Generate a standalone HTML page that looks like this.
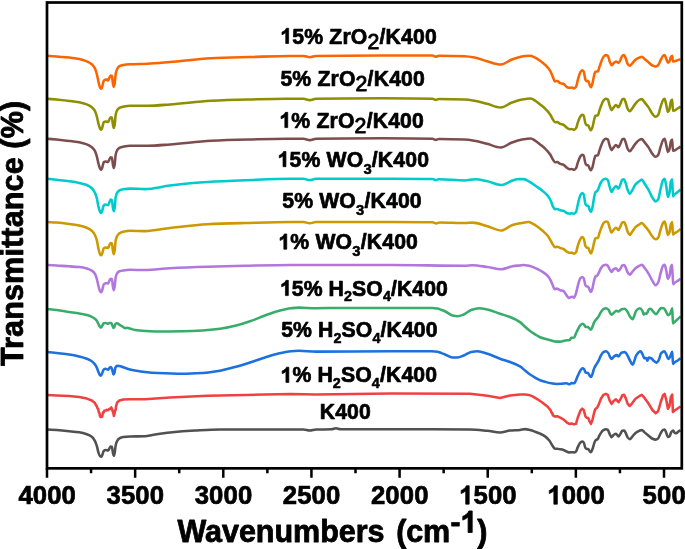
<!DOCTYPE html>
<html><head><meta charset="utf-8"><title>FTIR spectra</title>
<style>html,body{margin:0;padding:0;background:#fff}svg{display:block}</style>
</head><body>
<svg width="685" height="549" viewBox="0 0 685 549">
<defs><filter id="soft" x="0" y="0" width="685" height="549" filterUnits="userSpaceOnUse"><feGaussianBlur stdDeviation="0.35"/></filter></defs>
<rect width="685" height="549" fill="#fff"/>
<g filter="url(#soft)">
<rect width="685" height="549" fill="#fff"/>
<g fill="none" stroke-width="2.55" stroke-linejoin="round" stroke-linecap="butt">
<path d="M47.10 429.50C50.27 429.70 53.43 429.87 56.60 430.10C60.77 430.40 64.93 430.79 69.10 431.20C72.47 431.53 75.83 431.78 79.20 432.30C81.73 432.69 84.27 433.34 86.80 434.20C88.47 434.77 90.13 435.45 91.80 436.70C92.83 437.48 93.87 438.92 94.90 440.80C95.53 441.95 96.17 443.88 96.80 445.90C97.43 447.92 98.07 451.78 98.70 453.40C99.20 454.68 99.70 455.92 100.20 456.30C100.53 456.55 100.87 456.80 101.20 456.80C101.53 456.80 101.87 455.95 102.20 455.30C102.70 454.33 103.20 451.32 103.70 450.90C104.33 450.37 104.97 450.00 105.60 450.00C106.43 450.00 107.27 450.50 108.10 450.50C108.43 450.50 108.77 449.52 109.10 449.00C109.60 448.21 110.10 446.50 110.60 446.50C111.03 446.50 111.47 446.56 111.90 446.70C112.23 446.80 112.57 451.34 112.90 452.80C113.20 454.11 113.50 455.90 113.80 455.90C114.10 455.90 114.40 454.21 114.70 452.80C115.03 451.23 115.37 446.65 115.70 445.20C116.20 443.02 116.70 441.64 117.20 440.80C117.93 439.56 118.67 438.70 119.40 438.30C120.67 437.60 121.93 437.16 123.20 437.00C125.47 436.71 127.73 436.57 130.00 436.50C135.00 436.35 140.00 436.42 145.00 436.25C147.50 436.17 150.00 435.39 152.50 435.00C158.33 434.09 164.17 433.11 170.00 432.50C178.33 431.63 186.67 430.97 195.00 430.50C203.33 430.03 211.67 429.40 220.00 429.40C243.67 429.40 267.33 429.50 291.00 429.50C295.17 429.50 299.33 429.50 303.50 429.50C305.58 429.50 307.67 430.50 309.75 430.50C311.83 430.50 313.92 429.56 316.00 429.50C321.17 429.36 326.33 429.45 331.50 429.30C333.00 429.26 334.50 428.20 336.00 428.20C337.50 428.20 339.00 429.30 340.50 429.30C357.33 429.30 374.17 429.30 391.00 429.30C417.33 429.30 443.67 429.32 470.00 429.40C475.83 429.42 481.67 430.22 487.50 430.80C491.67 431.22 495.83 432.40 500.00 432.40C503.33 432.40 506.67 430.94 510.00 430.60C513.33 430.26 516.67 430.24 520.00 429.90C521.67 429.73 523.33 429.10 525.00 429.10C526.70 429.10 528.40 429.69 530.10 430.10C531.77 430.51 533.43 431.11 535.10 431.70C536.77 432.29 538.43 432.93 540.10 433.70C541.77 434.47 543.43 435.22 545.10 436.40C546.57 437.44 548.03 438.98 549.50 440.80C550.57 442.13 551.63 444.41 552.70 445.90C553.47 446.97 554.23 448.80 555.00 448.80C555.70 448.80 556.40 448.80 557.10 448.80C558.13 448.80 559.17 449.11 560.20 449.30C561.27 449.50 562.33 449.68 563.40 450.00C564.67 450.38 565.93 451.41 567.20 451.80C568.03 452.06 568.87 452.40 569.70 452.40C570.33 452.40 570.97 452.20 571.60 452.20C572.43 452.20 573.27 452.40 574.10 452.40C574.73 452.40 575.37 452.01 576.00 451.50C576.60 451.02 577.20 448.34 577.80 447.10C578.67 445.30 579.53 443.21 580.40 442.50C581.00 442.01 581.60 441.50 582.20 441.50C582.70 441.50 583.20 441.96 583.70 442.50C584.27 443.11 584.83 446.97 585.40 447.80C585.80 448.39 586.20 449.00 586.60 449.00C587.13 449.00 587.67 449.00 588.20 449.00C588.73 449.00 589.27 450.78 589.80 451.30C590.20 451.69 590.60 452.20 591.00 452.20C591.43 452.20 591.87 450.66 592.30 449.60C592.93 448.05 593.57 445.14 594.20 443.40C594.60 442.30 595.00 440.94 595.40 440.50C596.17 439.66 596.93 439.80 597.70 439.00C598.20 438.48 598.70 436.75 599.20 435.80C599.77 434.72 600.33 433.66 600.90 432.90C601.73 431.78 602.57 430.69 603.40 430.20C604.23 429.71 605.07 429.20 605.90 429.20C606.53 429.20 607.17 429.50 607.80 429.90C608.43 430.30 609.07 433.05 609.70 434.20C610.33 435.35 610.97 437.10 611.60 437.10C612.23 437.10 612.87 435.46 613.50 435.00C614.33 434.40 615.17 433.70 616.00 433.70C616.83 433.70 617.67 436.50 618.50 436.50C619.13 436.50 619.77 434.84 620.40 433.90C621.03 432.96 621.67 431.05 622.30 430.80C622.90 430.57 623.50 430.40 624.10 430.40C624.63 430.40 625.17 431.91 625.70 432.90C626.37 434.13 627.03 436.70 627.70 437.50C628.40 438.34 629.10 439.20 629.80 439.20C630.63 439.20 631.47 437.60 632.30 436.70C633.37 435.55 634.43 433.73 635.50 432.90C636.73 431.94 637.97 431.32 639.20 430.80C640.07 430.43 640.93 429.90 641.80 429.90C642.63 429.90 643.47 431.38 644.30 432.10C645.77 433.36 647.23 434.61 648.70 435.80C649.93 436.80 651.17 438.20 652.40 438.70C653.47 439.14 654.53 439.60 655.60 439.60C656.43 439.60 657.27 439.05 658.10 438.40C658.93 437.75 659.77 434.66 660.60 433.30C661.43 431.94 662.27 430.25 663.10 429.90C663.60 429.69 664.10 429.50 664.60 429.50C665.17 429.50 665.73 431.61 666.30 432.90C666.83 434.11 667.37 437.10 667.90 437.10C668.40 437.10 668.90 436.83 669.40 436.50C670.03 436.08 670.67 432.92 671.30 432.10C671.93 431.28 672.57 430.40 673.20 430.40C673.60 430.40 674.00 432.09 674.40 432.40C675.03 432.89 675.67 433.30 676.30 433.30C676.93 433.30 677.57 432.17 678.20 431.70C678.97 431.13 679.73 430.70 680.50 430.20" stroke="#515151"/>
<path d="M47.10 394.90L56.60 395.50L69.10 396.10L79.20 397.10L86.80 398.60L91.80 400.50L94.90 403.00L96.20 405.60L96.80 406.20L97.60 408.60L98.20 409.00L98.90 412.60L99.40 413.00L100.00 416.30L100.90 417.20L101.50 416.20L102.20 416.60L103.00 412.20L103.60 412.60L104.20 410.80L105.60 410.60L106.60 409.90L108.10 410.20L109.60 408.70L110.40 408.90L111.30 407.40L112.20 409.40L112.60 411.20L113.30 412.80L113.90 416.00L114.60 413.40L115.00 410.60L115.70 409.80L116.10 406.20L117.20 402.40L119.40 400.50L123.20 399.60L130.00 399.30L145.00 399.25L170.00 397.50L207.50 395.75L245.00 395.00L291.00 393.90L316.00 394.40L391.00 393.40L470.00 393.75L487.50 395.75L500.00 398.00L510.00 395.50L520.00 394.60L525.00 394.50L528.80 394.90L532.60 396.40L537.60 399.30L542.60 402.70L547.70 406.80L550.80 410.60L551.60 412.90L552.30 413.10L552.90 415.40L555.00 416.50L557.10 416.20L560.20 417.70L563.40 419.40L567.20 422.80L569.70 424.00L571.60 423.50L574.10 424.40L576.00 423.80L577.80 417.50L580.40 410.60L582.20 408.70L583.70 410.00L585.40 416.20L586.60 417.70L588.20 418.10L589.80 421.90L591.00 423.80L592.30 420.60L594.20 412.50L595.40 408.90L597.30 407.40L598.60 404.90L600.90 398.70L603.40 394.90L605.90 393.90L607.80 394.90L609.70 400.60L611.60 403.80L613.50 401.00L616.00 399.40L618.50 402.20L620.40 399.40L622.30 395.20L624.10 394.70L625.70 398.10L627.70 403.80L629.80 406.00L632.30 403.10L635.50 398.70L639.20 396.20L641.80 394.90L644.30 397.70L648.70 403.80L652.40 410.00L655.60 413.20L658.10 411.30L660.60 402.50L663.10 395.20L664.60 393.90L666.30 400.00L667.90 408.80L669.40 406.30L670.90 396.80L672.20 394.70L672.90 411.90L674.40 410.70L677.60 408.50L680.50 406.50" stroke="#F14040"/>
<path d="M47.10 351.90C50.27 352.30 53.43 352.71 56.60 353.10C60.77 353.61 64.93 353.97 69.10 354.60C72.47 355.11 75.83 355.80 79.20 356.60C81.73 357.20 84.27 357.85 86.80 358.80C88.47 359.42 90.13 360.16 91.80 361.30C92.83 362.01 93.87 363.08 94.90 364.40C95.53 365.21 96.17 366.30 96.80 367.60C97.43 368.90 98.07 371.20 98.70 372.60C99.20 373.71 99.70 375.21 100.20 375.50C100.47 375.66 100.73 375.80 101.00 375.80C101.40 375.80 101.80 374.12 102.20 373.20C102.70 372.05 103.20 369.83 103.70 369.50C104.33 369.08 104.97 368.80 105.60 368.80C106.43 368.80 107.27 369.70 108.10 369.70C108.53 369.70 108.97 368.39 109.40 368.00C109.93 367.51 110.47 366.90 111.00 366.90C111.43 366.90 111.87 368.77 112.30 370.10C112.67 371.22 113.03 374.50 113.40 374.50C113.73 374.50 114.07 373.78 114.40 373.00C114.73 372.22 115.07 368.31 115.40 367.60C115.90 366.53 116.40 365.70 116.90 365.70C117.73 365.70 118.57 365.80 119.40 365.90C120.67 366.06 121.93 366.77 123.20 367.20C125.47 367.97 127.73 368.94 130.00 369.50C131.67 369.91 133.33 370.21 135.00 370.50C138.33 371.08 141.67 371.65 145.00 372.00C149.17 372.44 153.33 372.81 157.50 373.00C165.83 373.38 174.17 373.75 182.50 373.75C189.17 373.75 195.83 373.39 202.50 373.00C208.33 372.66 214.17 371.75 220.00 370.75C225.00 369.89 230.00 368.36 235.00 367.00C240.00 365.64 245.00 364.08 250.00 362.50C255.00 360.92 260.00 359.08 265.00 357.50C269.17 356.19 273.33 354.71 277.50 353.75C282.00 352.72 286.50 351.64 291.00 351.25C293.50 351.03 296.00 350.80 298.50 350.80C304.33 350.80 310.17 351.60 316.00 351.60C341.00 351.60 366.00 351.25 391.00 351.25C404.67 351.25 418.33 351.25 432.00 351.25C433.83 351.25 435.67 351.45 437.50 351.70C438.67 351.86 439.83 352.47 441.00 352.90C442.33 353.39 443.67 353.97 445.00 354.50C447.50 355.50 450.00 357.50 452.50 357.50C454.17 357.50 455.83 357.50 457.50 357.50C459.58 357.50 461.67 356.29 463.75 355.50C466.25 354.56 468.75 352.47 471.25 352.00C473.33 351.61 475.42 351.25 477.50 351.25C480.83 351.25 484.17 352.73 487.50 353.75C491.67 355.02 495.83 357.26 500.00 358.75C503.33 359.94 506.67 360.77 510.00 362.00C513.33 363.23 516.67 364.33 520.00 366.30C521.67 367.28 523.33 369.15 525.00 370.50C526.70 371.88 528.40 373.32 530.10 374.50C531.77 375.65 533.43 376.66 535.10 377.60C536.77 378.54 538.43 379.54 540.10 380.20C541.77 380.86 543.43 381.34 545.10 381.80C547.20 382.38 549.30 382.97 551.40 383.30C553.10 383.56 554.80 383.90 556.50 383.90C558.17 383.90 559.83 383.79 561.50 383.70C563.17 383.61 564.83 383.30 566.50 383.30C567.57 383.30 568.63 384.30 569.70 384.30C570.33 384.30 570.97 383.00 571.60 383.00C572.50 383.00 573.40 383.30 574.30 383.30C574.87 383.30 575.43 381.38 576.00 380.20C576.60 378.95 577.20 377.14 577.80 375.80C578.67 373.86 579.53 371.72 580.40 370.50C581.10 369.51 581.80 368.20 582.50 368.20C583.03 368.20 583.57 368.67 584.10 369.20C584.60 369.69 585.10 372.43 585.60 372.60C586.37 372.86 587.13 372.76 587.90 373.00C588.53 373.20 589.17 375.06 589.80 375.80C590.20 376.27 590.60 377.00 591.00 377.00C591.43 377.00 591.87 375.54 592.30 374.50C592.93 372.98 593.57 369.68 594.20 368.20C595.03 366.26 595.87 365.21 596.70 363.80C597.33 362.73 597.97 361.89 598.60 360.70C599.30 359.38 600.00 357.22 600.70 356.00C601.60 354.43 602.50 352.71 603.40 352.20C604.23 351.73 605.07 351.30 605.90 351.30C606.73 351.30 607.57 352.22 608.40 353.20C609.03 353.94 609.67 356.74 610.30 357.60C610.73 358.19 611.17 358.90 611.60 358.90C612.43 358.90 613.27 356.97 614.10 356.40C614.93 355.83 615.77 355.10 616.60 355.10C617.23 355.10 617.87 356.40 618.50 356.40C619.53 356.40 620.57 352.99 621.60 352.60C622.67 352.20 623.73 351.90 624.80 351.90C625.63 351.90 626.47 353.80 627.30 355.10C628.33 356.71 629.37 359.65 630.40 361.40C631.17 362.70 631.93 364.80 632.70 364.80C633.20 364.80 633.70 362.68 634.20 361.40C634.83 359.77 635.47 356.72 636.10 355.70C637.57 353.34 639.03 351.30 640.50 351.30C641.13 351.30 641.77 352.74 642.40 353.80C643.03 354.86 643.67 358.20 644.30 358.20C644.93 358.20 645.57 358.00 646.20 358.00C646.60 358.00 647.00 360.80 647.40 360.80C647.83 360.80 648.27 357.60 648.70 357.60C649.53 357.60 650.37 357.88 651.20 358.20C652.03 358.52 652.87 360.15 653.70 360.80C654.67 361.56 655.63 362.60 656.60 362.60C657.30 362.60 658.00 361.25 658.70 360.10C659.53 358.73 660.37 354.04 661.20 353.20C662.27 352.13 663.33 351.30 664.40 351.30C665.03 351.30 665.67 353.26 666.30 354.50C666.93 355.74 667.57 358.90 668.20 358.90C668.80 358.90 669.40 357.90 670.00 357.00C670.57 356.15 671.13 353.63 671.70 352.60C671.90 352.24 672.10 351.70 672.30 351.70C672.50 351.70 672.70 363.90 672.90 363.90C673.40 363.90 673.90 362.98 674.40 362.60C675.47 361.79 676.53 361.27 677.60 360.50C678.57 359.80 679.53 358.97 680.50 358.20" stroke="#1A6FDF"/>
<path d="M47.10 308.90C50.27 309.30 53.43 309.66 56.60 310.10C60.77 310.67 64.93 311.37 69.10 312.00C72.47 312.51 75.83 312.91 79.20 313.50C81.73 313.94 84.27 314.43 86.80 315.10C88.47 315.54 90.13 316.05 91.80 316.80C92.83 317.26 93.87 317.87 94.90 318.70C95.53 319.21 96.17 319.90 96.80 320.80C97.43 321.70 98.07 323.45 98.70 324.60C99.20 325.51 99.70 326.79 100.20 327.10C100.53 327.31 100.87 327.50 101.20 327.50C101.53 327.50 101.87 326.36 102.20 325.80C102.70 324.96 103.20 323.49 103.70 323.30C104.33 323.06 104.97 322.90 105.60 322.90C106.43 322.90 107.27 323.70 108.10 323.70C108.53 323.70 108.97 322.90 109.40 322.90C110.03 322.90 110.67 322.90 111.30 322.90C111.70 322.90 112.10 324.88 112.50 325.80C112.83 326.57 113.17 328.00 113.50 328.00C113.80 328.00 114.10 327.55 114.40 327.10C114.73 326.60 115.07 324.15 115.40 323.90C115.90 323.52 116.40 323.30 116.90 323.30C117.73 323.30 118.57 324.12 119.40 324.60C120.47 325.22 121.53 326.06 122.60 326.70C123.43 327.20 124.27 328.10 125.10 328.10C125.73 328.10 126.37 327.80 127.00 327.80C128.00 327.80 129.00 328.33 130.00 328.60C131.67 329.05 133.33 329.74 135.00 330.00C138.33 330.52 141.67 330.81 145.00 331.00C149.17 331.24 153.33 331.50 157.50 331.50C165.83 331.50 174.17 331.38 182.50 331.25C189.17 331.14 195.83 330.87 202.50 330.50C208.33 330.18 214.17 329.53 220.00 328.75C225.00 328.08 230.00 326.95 235.00 325.75C240.00 324.55 245.00 322.93 250.00 321.25C255.00 319.57 260.00 317.30 265.00 315.50C269.17 314.00 273.33 312.37 277.50 311.25C282.00 310.04 286.50 308.79 291.00 308.25C293.50 307.95 296.00 307.60 298.50 307.60C304.33 307.60 310.17 308.20 316.00 308.20C324.33 308.20 332.67 308.00 341.00 308.00C357.67 308.00 374.33 308.00 391.00 308.00C404.67 308.00 418.33 308.01 432.00 308.05C433.83 308.06 435.67 308.31 437.50 308.60C438.67 308.78 439.83 309.30 441.00 309.70C442.33 310.16 443.67 310.65 445.00 311.25C447.50 312.38 450.00 314.93 452.50 315.50C454.17 315.88 455.83 316.25 457.50 316.25C459.58 316.25 461.67 315.29 463.75 314.50C466.25 313.56 468.75 310.84 471.25 310.00C473.75 309.16 476.25 308.25 478.75 308.25C481.67 308.25 484.58 308.93 487.50 309.50C491.67 310.32 495.83 312.37 500.00 313.75C503.33 314.86 506.67 315.68 510.00 317.00C513.33 318.32 516.67 319.84 520.00 322.10C521.67 323.23 523.33 325.25 525.00 326.70C526.70 328.18 528.40 329.63 530.10 330.90C531.77 332.14 533.43 333.26 535.10 334.30C536.77 335.34 538.43 336.51 540.10 337.20C541.77 337.89 543.43 338.31 545.10 338.80C547.20 339.42 549.30 340.00 551.40 340.50C553.10 340.91 554.80 341.60 556.50 341.60C557.73 341.60 558.97 341.60 560.20 341.60C561.90 341.60 563.60 340.78 565.30 340.50C566.77 340.26 568.23 340.31 569.70 339.90C570.23 339.75 570.77 337.91 571.30 337.80C572.23 337.60 573.17 337.70 574.10 337.50C574.73 337.36 575.37 334.75 576.00 333.40C576.60 332.12 577.20 330.73 577.80 329.60C578.67 327.96 579.53 326.06 580.40 325.20C581.10 324.51 581.80 323.70 582.50 323.70C583.03 323.70 583.57 324.15 584.10 324.60C584.53 324.97 584.97 326.56 585.40 326.70C586.23 326.97 587.07 326.87 587.90 327.10C588.53 327.28 589.17 328.20 589.80 328.70C590.20 329.02 590.60 329.60 591.00 329.60C591.43 329.60 591.87 328.05 592.30 327.10C592.93 325.71 593.57 323.21 594.20 322.10C595.03 320.64 595.87 319.98 596.70 318.90C597.33 318.08 597.97 317.38 598.60 316.40C599.30 315.31 600.00 313.43 600.70 312.40C601.60 311.07 602.50 309.69 603.40 309.20C604.23 308.74 605.07 308.30 605.90 308.30C606.73 308.30 607.57 308.89 608.40 309.60C609.03 310.14 609.67 312.62 610.30 313.40C610.73 313.94 611.17 314.60 611.60 314.60C612.43 314.60 613.27 313.13 614.10 312.50C614.93 311.87 615.77 310.80 616.60 310.80C617.23 310.80 617.87 311.50 618.50 311.50C619.53 311.50 620.57 309.47 621.60 309.20C622.67 308.92 623.73 308.70 624.80 308.70C625.63 308.70 626.47 310.36 627.30 311.50C628.33 312.92 629.37 315.83 630.40 317.10C631.17 318.04 631.93 319.30 632.70 319.30C633.20 319.30 633.70 317.12 634.20 315.90C634.83 314.35 635.47 311.52 636.10 310.80C637.37 309.36 638.63 308.30 639.90 308.30C640.73 308.30 641.57 309.45 642.40 310.80C642.80 311.45 643.20 314.60 643.60 314.60C644.03 314.60 644.47 313.40 644.90 313.40C645.53 313.40 646.17 313.70 646.80 313.70C647.43 313.70 648.07 310.09 648.70 309.60C649.33 309.11 649.97 308.70 650.60 308.70C651.43 308.70 652.27 310.68 653.10 311.50C654.13 312.52 655.17 314.20 656.20 314.20C657.03 314.20 657.87 311.84 658.70 310.80C659.53 309.76 660.37 307.90 661.20 307.90C662.07 307.90 662.93 308.06 663.80 308.30C664.63 308.53 665.47 310.79 666.30 312.10C666.93 313.10 667.57 315.20 668.20 315.20C668.80 315.20 669.40 314.64 670.00 314.00C670.57 313.40 671.13 310.92 671.70 309.60C671.90 309.13 672.10 308.30 672.30 308.30C672.50 308.30 672.70 323.40 672.90 323.40C673.40 323.40 673.90 322.62 674.40 322.20C675.47 321.30 676.53 320.30 677.60 319.30C678.57 318.40 679.53 317.43 680.50 316.50" stroke="#37AD6B"/>
<path d="M47.10 265.00C50.27 265.20 53.43 265.41 56.60 265.60C60.77 265.85 64.93 266.02 69.10 266.30C72.47 266.52 75.83 266.72 79.20 267.10C81.73 267.39 84.27 267.82 86.80 268.50C88.47 268.95 90.13 269.65 91.80 270.70C92.83 271.35 93.87 272.25 94.90 273.80C95.53 274.75 96.17 276.73 96.80 278.80C97.43 280.87 98.07 284.80 98.70 287.00C99.20 288.73 99.70 290.73 100.20 291.40C100.53 291.84 100.87 292.30 101.20 292.30C101.53 292.30 101.87 291.08 102.20 290.20C102.70 288.87 103.20 285.10 103.70 284.50C104.33 283.74 104.97 283.20 105.60 283.20C106.43 283.20 107.27 283.50 108.10 283.50C108.43 283.50 108.77 282.04 109.10 281.40C109.60 280.44 110.10 278.80 110.60 278.80C111.03 278.80 111.47 278.93 111.90 279.20C112.23 279.40 112.57 284.63 112.90 286.40C113.20 287.99 113.50 290.20 113.80 290.20C114.10 290.20 114.40 288.14 114.70 286.40C115.03 284.47 115.37 278.38 115.70 277.00C116.20 274.92 116.70 273.86 117.20 273.20C117.93 272.23 118.67 271.59 119.40 271.30C120.67 270.80 121.93 270.57 123.20 270.40C125.47 270.10 127.73 269.80 130.00 269.80C135.00 269.80 140.00 270.00 145.00 270.00C153.33 270.00 161.67 268.68 170.00 268.25C182.50 267.60 195.00 267.15 207.50 266.75C220.00 266.35 232.50 266.01 245.00 265.75C260.33 265.44 275.67 265.00 291.00 265.00C324.33 265.00 357.67 265.00 391.00 265.00C415.67 265.00 440.33 265.75 465.00 265.75C467.50 265.75 470.00 265.20 472.50 265.20C477.50 265.20 482.50 266.31 487.50 267.00C492.08 267.64 496.67 269.25 501.25 269.25C505.00 269.25 508.75 266.83 512.50 266.25C515.00 265.86 517.50 265.67 520.00 265.40C521.27 265.26 522.53 265.00 523.80 265.00C525.03 265.00 526.27 265.36 527.50 265.60C529.20 265.93 530.90 266.34 532.60 266.90C534.27 267.45 535.93 268.37 537.60 269.20C539.27 270.03 540.93 270.83 542.60 271.90C544.30 272.99 546.00 274.08 547.70 275.90C548.73 277.01 549.77 278.72 550.80 280.70C551.50 282.04 552.20 284.24 552.90 285.80C553.47 287.06 554.03 289.30 554.60 289.30C555.23 289.30 555.87 288.50 556.50 288.50C557.73 288.50 558.97 289.80 560.20 290.20C561.27 290.54 562.33 290.55 563.40 291.00C564.43 291.44 565.47 293.91 566.50 295.20C567.33 296.24 568.17 298.10 569.00 298.10C569.63 298.10 570.27 297.27 570.90 297.10C571.47 296.95 572.03 296.80 572.60 296.80C573.10 296.80 573.60 297.70 574.10 297.70C574.73 297.70 575.37 295.19 576.00 293.30C576.60 291.51 577.20 287.88 577.80 285.80C578.67 282.79 579.53 279.11 580.40 278.20C581.00 277.57 581.60 277.00 582.20 277.00C582.70 277.00 583.20 277.54 583.70 278.20C584.27 278.95 584.83 284.16 585.40 285.10C585.80 285.76 586.20 286.23 586.60 286.40C587.13 286.62 587.67 286.56 588.20 286.80C588.73 287.04 589.27 289.27 589.80 290.20C590.20 290.90 590.60 292.00 591.00 292.00C591.43 292.00 591.87 290.24 592.30 288.90C592.93 286.95 593.57 282.29 594.20 280.10C594.60 278.72 595.00 277.16 595.40 276.70C596.03 275.97 596.67 276.03 597.30 275.40C597.73 274.97 598.17 274.02 598.60 273.20C599.37 271.76 600.13 269.34 600.90 268.20C601.73 266.96 602.57 265.77 603.40 265.40C604.23 265.03 605.07 264.70 605.90 264.70C606.53 264.70 607.17 265.18 607.80 265.70C608.43 266.22 609.07 268.41 609.70 269.40C610.33 270.39 610.97 271.90 611.60 271.90C612.23 271.90 612.87 269.86 613.50 269.40C614.33 268.80 615.17 268.20 616.00 268.20C616.83 268.20 617.67 270.90 618.50 270.90C619.13 270.90 619.77 269.67 620.40 268.80C621.03 267.93 621.67 265.65 622.30 265.40C622.90 265.16 623.50 265.00 624.10 265.00C624.63 265.00 625.17 266.48 625.70 267.50C626.37 268.78 627.03 271.64 627.70 272.60C628.40 273.61 629.10 274.70 629.80 274.70C630.63 274.70 631.47 272.85 632.30 271.90C633.37 270.69 634.43 269.07 635.50 268.20C636.73 267.20 637.97 266.55 639.20 265.90C640.07 265.44 640.93 264.70 641.80 264.70C642.63 264.70 643.47 266.46 644.30 267.50C645.77 269.32 647.23 271.40 648.70 273.80C649.93 275.82 651.17 278.84 652.40 280.80C653.47 282.49 654.53 285.20 655.60 285.20C656.43 285.20 657.27 283.96 658.10 282.60C658.93 281.24 659.77 275.98 660.60 273.20C661.43 270.42 662.27 266.56 663.10 265.70C663.60 265.18 664.10 264.70 664.60 264.70C665.17 264.70 665.73 268.33 666.30 270.70C666.83 272.93 667.37 278.90 667.90 278.90C668.40 278.90 668.90 277.72 669.40 276.40C669.90 275.08 670.40 268.38 670.90 266.90C671.27 265.81 671.63 264.70 672.00 264.70C672.20 264.70 672.40 271.23 672.60 274.50C672.80 277.77 673.00 284.30 673.20 284.30C673.60 284.30 674.00 283.33 674.40 283.00C675.47 282.12 676.53 281.72 677.60 281.00C678.57 280.35 679.53 279.60 680.50 278.90" stroke="#B177DE"/>
<path d="M47.10 222.00C50.27 222.20 53.43 222.35 56.60 222.60C60.77 222.92 64.93 223.39 69.10 223.90C72.47 224.31 75.83 224.72 79.20 225.40C81.73 225.91 84.27 226.64 86.80 227.70C88.47 228.39 90.13 229.34 91.80 230.80C92.83 231.71 93.87 233.08 94.90 235.00C95.53 236.18 96.17 237.96 96.80 240.20C97.43 242.44 98.07 247.19 98.70 249.70C99.20 251.68 99.70 254.21 100.20 254.70C100.53 255.02 100.87 255.30 101.20 255.30C101.53 255.30 101.87 254.19 102.20 253.40C102.70 252.21 103.20 248.83 103.70 248.40C104.33 247.86 104.97 247.50 105.60 247.50C106.43 247.50 107.27 248.00 108.10 248.00C108.43 248.00 108.77 246.57 109.10 245.90C109.60 244.89 110.10 243.00 110.60 243.00C111.03 243.00 111.47 243.13 111.90 243.40C112.23 243.60 112.57 248.56 112.90 250.30C113.20 251.87 113.50 254.10 113.80 254.10C114.10 254.10 114.40 252.07 114.70 250.30C115.03 248.33 115.37 241.77 115.70 240.20C116.20 237.84 116.70 236.64 117.20 235.80C117.93 234.56 118.67 233.75 119.40 233.30C120.67 232.52 121.93 232.08 123.20 231.80C125.47 231.29 127.73 230.80 130.00 230.80C135.00 230.80 140.00 231.10 145.00 231.10C153.33 231.10 161.67 228.93 170.00 228.00C182.50 226.61 195.00 224.88 207.50 224.25C220.00 223.62 232.50 223.33 245.00 223.00C260.33 222.59 275.67 222.00 291.00 222.00C295.17 222.00 299.33 222.00 303.50 222.00C305.58 222.00 307.67 223.30 309.75 223.30C311.83 223.30 313.92 222.00 316.00 222.00C341.00 222.00 366.00 222.00 391.00 222.00C404.83 222.00 418.67 222.03 432.50 222.30C433.75 222.32 435.00 223.40 436.25 223.40C437.50 223.40 438.75 222.40 440.00 222.40C448.33 222.40 456.67 223.00 465.00 223.00C467.50 223.00 470.00 222.60 472.50 222.60C477.50 222.60 482.50 224.89 487.50 226.25C492.08 227.50 496.67 230.50 501.25 230.50C505.00 230.50 508.75 226.13 512.50 225.00C515.00 224.24 517.50 223.80 520.00 223.30C521.67 222.97 523.33 222.62 525.00 222.40C526.27 222.23 527.53 222.00 528.80 222.00C530.07 222.00 531.33 222.97 532.60 223.60C534.27 224.43 535.93 225.52 537.60 226.70C539.27 227.88 540.93 229.31 542.60 230.80C544.30 232.32 546.00 233.67 547.70 235.80C548.73 237.10 549.77 239.14 550.80 240.90C551.50 242.09 552.20 243.58 552.90 244.60C553.60 245.62 554.30 247.20 555.00 247.20C555.70 247.20 556.40 246.80 557.10 246.80C558.13 246.80 559.17 247.64 560.20 248.00C561.27 248.37 562.33 248.54 563.40 249.00C564.67 249.55 565.93 251.16 567.20 251.80C568.03 252.22 568.87 252.80 569.70 252.80C570.33 252.80 570.97 252.60 571.60 252.60C572.43 252.60 573.27 253.70 574.10 253.70C574.73 253.70 575.37 253.02 576.00 252.20C576.60 251.42 577.20 247.73 577.80 245.90C578.67 243.26 579.53 240.28 580.40 239.00C581.00 238.12 581.60 237.10 582.20 237.10C582.70 237.10 583.20 237.69 583.70 238.40C584.27 239.21 584.83 244.61 585.40 245.90C585.80 246.81 586.20 247.80 586.60 247.80C587.13 247.80 587.67 247.80 588.20 247.80C588.73 247.80 589.27 250.63 589.80 251.60C590.20 252.33 590.60 253.40 591.00 253.40C591.43 253.40 591.87 251.61 592.30 250.30C592.93 248.39 593.57 244.35 594.20 242.10C594.60 240.68 595.00 238.59 595.40 238.40C596.27 237.98 597.13 238.22 598.00 237.80C598.40 237.61 598.80 235.14 599.20 233.90C599.77 232.15 600.33 230.35 600.90 228.90C601.73 226.76 602.57 224.25 603.40 223.30C604.23 222.35 605.07 221.40 605.90 221.40C606.53 221.40 607.17 221.64 607.80 222.00C608.43 222.36 609.07 226.18 609.70 227.90C610.33 229.62 610.97 232.50 611.60 232.50C612.23 232.50 612.87 230.69 613.50 230.00C614.33 229.09 615.17 227.70 616.00 227.70C616.83 227.70 617.67 230.00 618.50 230.00C619.13 230.00 619.77 227.66 620.40 226.40C621.03 225.14 621.67 222.65 622.30 222.40C622.90 222.16 623.50 222.00 624.10 222.00C624.63 222.00 625.17 224.06 625.70 225.40C626.37 227.08 627.03 230.30 627.70 231.70C628.40 233.17 629.10 235.00 629.80 235.00C630.63 235.00 631.47 232.66 632.30 231.50C633.37 230.02 634.43 228.10 635.50 227.10C636.73 225.94 637.97 225.31 639.20 224.50C640.07 223.93 640.93 222.90 641.80 222.90C642.63 222.90 643.47 224.49 644.30 225.40C645.77 227.00 647.23 228.79 648.70 230.80C649.93 232.49 651.17 235.13 652.40 236.50C653.47 237.68 654.53 239.30 655.60 239.30C656.43 239.30 657.27 238.65 658.10 237.80C658.93 236.95 659.77 232.10 660.60 229.60C661.43 227.10 662.27 223.75 663.10 222.70C663.60 222.07 664.10 221.40 664.60 221.40C665.17 221.40 665.73 225.38 666.30 227.70C666.83 229.88 667.37 235.00 667.90 235.00C668.40 235.00 668.90 233.79 669.40 232.50C669.90 231.21 670.40 225.05 670.90 223.90C671.33 222.90 671.77 222.00 672.20 222.00C672.43 222.00 672.67 234.60 672.90 234.60C673.40 234.60 673.90 233.75 674.40 233.40C675.47 232.66 676.53 232.25 677.60 231.50C678.57 230.82 679.53 229.83 680.50 229.00" stroke="#CC9900"/>
<path d="M47.10 178.70C50.27 179.07 53.43 179.43 56.60 179.80C60.77 180.29 64.93 180.73 69.10 181.30C72.47 181.76 75.83 182.21 79.20 182.90C81.73 183.42 84.27 183.99 86.80 185.00C88.47 185.66 90.13 186.68 91.80 188.20C92.83 189.14 93.87 190.56 94.90 192.60C95.53 193.85 96.17 195.85 96.80 198.20C97.43 200.55 98.07 205.38 98.70 207.70C99.20 209.53 99.70 211.49 100.20 212.10C100.53 212.50 100.87 212.90 101.20 212.90C101.53 212.90 101.87 211.66 102.20 210.80C102.70 209.50 103.20 205.97 103.70 205.50C104.33 204.90 104.97 204.50 105.60 204.50C106.43 204.50 107.27 205.20 108.10 205.20C108.43 205.20 108.77 203.75 109.10 203.00C109.60 201.87 110.10 199.50 110.60 199.50C111.03 199.50 111.47 199.71 111.90 200.10C112.23 200.40 112.57 206.03 112.90 207.70C113.20 209.21 113.50 211.10 113.80 211.10C114.10 211.10 114.40 209.36 114.70 207.70C115.03 205.85 115.37 198.60 115.70 197.00C116.20 194.61 116.70 193.37 117.20 192.60C117.93 191.47 118.67 190.77 119.40 190.40C120.67 189.76 121.93 189.38 123.20 189.20C125.47 188.87 127.73 188.60 130.00 188.60C135.00 188.60 140.00 189.10 145.00 189.10C153.33 189.10 161.67 186.46 170.00 185.50C182.50 184.06 195.00 182.78 207.50 182.00C220.00 181.22 232.50 180.73 245.00 180.25C260.33 179.66 275.67 178.75 291.00 178.75C295.17 178.75 299.33 178.76 303.50 178.80C305.58 178.82 307.67 180.00 309.75 180.00C311.83 180.00 313.92 178.80 316.00 178.80C341.00 178.75 366.00 178.75 391.00 178.75C404.83 178.75 418.67 178.79 432.50 179.10C433.58 179.12 434.67 180.00 435.75 180.00C436.83 180.00 437.92 179.20 439.00 179.20C447.67 179.20 456.33 180.50 465.00 180.50C468.33 180.50 471.67 179.20 475.00 179.20C479.17 179.20 483.33 180.40 487.50 181.25C492.08 182.19 496.67 185.00 501.25 185.00C505.00 185.00 508.75 181.67 512.50 180.50C514.00 180.03 515.50 179.45 517.00 179.30C518.00 179.20 519.00 179.10 520.00 179.10C521.27 179.10 522.53 179.10 523.80 179.10C525.03 179.10 526.27 180.00 527.50 180.60C529.20 181.43 530.90 182.69 532.60 183.80C534.27 184.89 535.93 186.02 537.60 187.20C539.27 188.38 540.93 189.52 542.60 190.90C544.30 192.31 546.00 193.62 547.70 195.70C548.73 196.97 549.77 198.66 550.80 200.80C551.50 202.25 552.20 205.13 552.90 206.40C553.60 207.67 554.30 209.30 555.00 209.30C555.70 209.30 556.40 208.90 557.10 208.90C558.13 208.90 559.17 209.93 560.20 210.20C561.27 210.48 562.33 210.49 563.40 210.80C564.67 211.16 565.93 213.05 567.20 213.30C568.03 213.46 568.87 213.60 569.70 213.60C570.33 213.60 570.97 213.30 571.60 213.30C572.43 213.30 573.27 213.70 574.10 213.70C574.73 213.70 575.37 212.99 576.00 212.10C576.60 211.25 577.20 206.85 577.80 204.50C578.67 201.11 579.53 196.58 580.40 195.10C581.00 194.07 581.60 193.00 582.20 193.00C582.70 193.00 583.20 193.67 583.70 194.50C584.27 195.45 584.83 202.72 585.40 203.90C585.80 204.73 586.20 205.36 586.60 205.50C587.13 205.68 587.67 205.61 588.20 205.80C588.73 205.99 589.27 209.30 589.80 210.20C590.20 210.88 590.60 211.70 591.00 211.70C591.43 211.70 591.87 209.84 592.30 208.30C592.93 206.05 593.57 199.99 594.20 197.00C594.60 195.11 595.00 192.69 595.40 192.20C596.03 191.42 596.67 191.57 597.30 190.90C597.73 190.44 598.17 189.17 598.60 188.20C599.37 186.48 600.13 183.77 600.90 182.50C601.73 181.12 602.57 179.74 603.40 179.40C604.23 179.06 605.07 178.80 605.90 178.80C606.53 178.80 607.17 179.32 607.80 180.00C608.43 180.68 609.07 184.94 609.70 186.90C610.33 188.85 610.97 192.00 611.60 192.00C612.23 192.00 612.87 189.68 613.50 188.80C614.33 187.65 615.17 185.90 616.00 185.90C616.83 185.90 617.67 188.50 618.50 188.50C619.13 188.50 619.77 185.86 620.40 184.40C621.03 182.94 621.67 180.01 622.30 179.70C622.90 179.40 623.50 179.20 624.10 179.20C624.63 179.20 625.17 181.66 625.70 183.20C626.37 185.12 627.03 188.51 627.70 190.10C628.40 191.77 629.10 193.90 629.80 193.90C630.63 193.90 631.47 191.46 632.30 190.10C633.37 188.36 634.43 185.63 635.50 184.40C636.73 182.98 637.97 182.26 639.20 181.30C640.07 180.63 640.93 179.40 641.80 179.40C642.63 179.40 643.47 181.92 644.30 183.20C645.77 185.46 647.23 187.50 648.70 190.10C649.93 192.29 651.17 195.76 652.40 197.60C653.47 199.19 654.53 201.40 655.60 201.40C656.43 201.40 657.27 200.58 658.10 199.50C658.93 198.42 659.77 192.02 660.60 188.80C661.43 185.58 662.27 181.03 663.10 180.00C663.60 179.38 664.10 178.80 664.60 178.80C665.17 178.80 665.73 183.28 666.30 186.30C666.83 189.14 667.37 197.00 667.90 197.00C668.40 197.00 668.90 195.12 669.40 193.20C669.90 191.28 670.40 182.62 670.90 181.30C671.33 180.15 671.77 179.20 672.20 179.20C672.43 179.20 672.67 196.40 672.90 196.40C673.40 196.40 673.90 195.00 674.40 194.50C675.47 193.44 676.53 192.88 677.60 192.00C678.57 191.21 679.53 190.33 680.50 189.50" stroke="#00CBCC"/>
<path d="M47.10 138.70C50.27 139.00 53.43 139.29 56.60 139.60C60.77 140.01 64.93 140.40 69.10 140.90C72.47 141.30 75.83 141.67 79.20 142.30C81.73 142.78 84.27 143.44 86.80 144.40C88.47 145.03 90.13 145.89 91.80 147.20C92.83 148.01 93.87 149.09 94.90 150.90C95.53 152.01 96.17 154.22 96.80 156.40C97.43 158.58 98.07 162.31 98.70 164.50C99.20 166.23 99.70 168.23 100.20 168.90C100.53 169.34 100.87 169.80 101.20 169.80C101.53 169.80 101.87 168.57 102.20 167.70C102.70 166.40 103.20 162.73 103.70 162.30C104.33 161.75 104.97 161.40 105.60 161.40C106.43 161.40 107.27 162.00 108.10 162.00C108.43 162.00 108.77 160.74 109.10 160.10C109.60 159.14 110.10 157.20 110.60 157.20C111.03 157.20 111.47 157.33 111.90 157.60C112.23 157.80 112.57 162.85 112.90 164.50C113.20 165.99 113.50 168.00 113.80 168.00C114.10 168.00 114.40 166.17 114.70 164.50C115.03 162.65 115.37 156.07 115.70 154.50C116.20 152.15 116.70 150.87 117.20 150.10C117.93 148.97 118.67 148.27 119.40 147.90C120.67 147.26 121.93 146.96 123.20 146.70C125.47 146.23 127.73 145.70 130.00 145.70C135.83 145.70 141.67 145.75 147.50 145.75C155.00 145.75 162.50 145.01 170.00 144.50C183.67 143.58 197.33 141.41 211.00 140.75C223.50 140.14 236.00 139.81 248.50 139.50C261.00 139.19 273.50 138.75 286.00 138.75C291.83 138.75 297.67 138.76 303.50 138.80C305.58 138.81 307.67 140.10 309.75 140.10C311.83 140.10 313.92 138.84 316.00 138.80C338.00 138.37 360.00 138.30 382.00 138.30C398.83 138.30 415.67 138.35 432.50 138.80C433.58 138.83 434.67 140.00 435.75 140.00C436.83 140.00 437.92 138.90 439.00 138.90C447.50 138.90 456.00 139.13 464.50 139.50C467.83 139.65 471.17 140.21 474.50 140.75C478.67 141.43 482.83 142.69 487.00 143.75C491.58 144.92 496.17 147.50 500.75 147.50C504.50 147.50 508.25 143.84 512.00 142.50C515.33 141.31 518.67 140.14 522.00 139.50C523.33 139.25 524.67 139.07 526.00 138.90C527.57 138.70 529.13 138.40 530.70 138.40C532.17 138.40 533.63 139.72 535.10 140.60C536.77 141.60 538.43 143.07 540.10 144.40C541.77 145.73 543.43 146.98 545.10 148.60C546.80 150.25 548.50 152.02 550.20 154.50C551.10 155.81 552.00 158.11 552.90 159.50C553.60 160.58 554.30 162.30 555.00 162.30C555.70 162.30 556.40 162.00 557.10 162.00C558.13 162.00 559.17 163.50 560.20 163.90C561.27 164.31 562.33 164.36 563.40 164.80C564.67 165.33 565.93 167.20 567.20 168.00C568.03 168.53 568.87 169.30 569.70 169.30C570.33 169.30 570.97 168.90 571.60 168.90C572.43 168.90 573.27 169.80 574.10 169.80C574.73 169.80 575.37 169.10 576.00 168.30C576.60 167.54 577.20 164.25 577.80 162.60C578.67 160.22 579.53 157.54 580.40 156.40C581.00 155.61 581.60 154.70 582.20 154.70C582.70 154.70 583.20 155.13 583.70 155.70C584.27 156.35 584.83 162.01 585.40 163.30C585.80 164.21 586.20 165.20 586.60 165.20C587.13 165.20 587.67 165.20 588.20 165.20C588.73 165.20 589.27 168.13 589.80 168.90C590.20 169.48 590.60 170.20 591.00 170.20C591.43 170.20 591.87 168.83 592.30 167.70C592.93 166.05 593.57 161.79 594.20 159.50C594.60 158.06 595.00 155.86 595.40 155.70C596.27 155.35 597.13 155.55 598.00 155.20C598.40 155.04 598.80 152.54 599.20 151.30C599.77 149.55 600.33 147.75 600.90 146.30C601.73 144.16 602.57 141.65 603.40 140.70C604.23 139.75 605.07 138.80 605.90 138.80C606.53 138.80 607.17 139.03 607.80 139.40C608.43 139.77 609.07 143.97 609.70 145.70C610.33 147.43 610.97 150.10 611.60 150.10C612.23 150.10 612.87 148.32 613.50 147.60C614.33 146.65 615.17 145.10 616.00 145.10C616.83 145.10 617.67 147.20 618.50 147.20C619.13 147.20 619.77 145.08 620.40 143.80C621.03 142.52 621.67 139.77 622.30 139.40C622.90 139.05 623.50 138.80 624.10 138.80C624.63 138.80 625.17 141.09 625.70 142.50C626.37 144.27 627.03 147.64 627.70 148.80C628.40 150.01 629.10 151.30 629.80 151.30C630.63 151.30 631.47 149.31 632.30 148.20C633.37 146.78 634.43 144.84 635.50 143.60C636.73 142.16 637.97 140.66 639.20 140.00C640.07 139.53 640.93 139.00 641.80 139.00C642.63 139.00 643.47 140.89 644.30 141.90C645.77 143.69 647.23 145.43 648.70 147.60C649.93 149.42 651.17 152.45 652.40 153.90C653.47 155.15 654.53 156.80 655.60 156.80C656.43 156.80 657.27 156.04 658.10 155.10C658.93 154.16 659.77 149.40 660.60 146.90C661.43 144.40 662.27 140.99 663.10 140.00C663.60 139.41 664.10 138.80 664.60 138.80C665.17 138.80 665.73 142.84 666.30 145.10C666.83 147.23 667.37 152.00 667.90 152.00C668.40 152.00 668.90 150.78 669.40 149.50C669.90 148.22 670.40 142.44 670.90 141.30C671.33 140.31 671.77 139.40 672.20 139.40C672.43 139.40 672.67 150.70 672.90 150.70C673.40 150.70 673.90 150.60 674.40 150.50C675.47 150.28 676.53 149.16 677.60 148.50C678.57 147.90 679.53 147.30 680.50 146.70" stroke="#7D4E4E"/>
<path d="M47.10 98.70C50.27 99.00 53.43 99.29 56.60 99.60C60.77 100.01 64.93 100.40 69.10 100.90C72.47 101.30 75.83 101.67 79.20 102.30C81.73 102.78 84.27 103.44 86.80 104.40C88.47 105.03 90.13 105.89 91.80 107.20C92.83 108.01 93.87 109.09 94.90 110.90C95.53 112.01 96.17 114.22 96.80 116.40C97.43 118.58 98.07 122.31 98.70 124.50C99.20 126.23 99.70 128.23 100.20 128.90C100.53 129.34 100.87 129.80 101.20 129.80C101.53 129.80 101.87 128.57 102.20 127.70C102.70 126.40 103.20 122.73 103.70 122.30C104.33 121.75 104.97 121.40 105.60 121.40C106.43 121.40 107.27 122.00 108.10 122.00C108.43 122.00 108.77 120.74 109.10 120.10C109.60 119.14 110.10 117.20 110.60 117.20C111.03 117.20 111.47 117.33 111.90 117.60C112.23 117.80 112.57 122.85 112.90 124.50C113.20 125.99 113.50 128.00 113.80 128.00C114.10 128.00 114.40 126.17 114.70 124.50C115.03 122.65 115.37 116.07 115.70 114.50C116.20 112.15 116.70 110.87 117.20 110.10C117.93 108.97 118.67 108.27 119.40 107.90C120.67 107.26 121.93 106.96 123.20 106.70C125.47 106.23 127.73 105.70 130.00 105.70C135.83 105.70 141.67 105.75 147.50 105.75C155.00 105.75 162.50 105.01 170.00 104.50C183.67 103.58 197.33 101.41 211.00 100.75C223.50 100.14 236.00 99.81 248.50 99.50C261.00 99.19 273.50 98.75 286.00 98.75C291.83 98.75 297.67 98.76 303.50 98.80C305.58 98.81 307.67 100.10 309.75 100.10C311.83 100.10 313.92 98.84 316.00 98.80C338.00 98.37 360.00 98.30 382.00 98.30C398.83 98.30 415.67 98.35 432.50 98.80C433.58 98.83 434.67 100.00 435.75 100.00C436.83 100.00 437.92 98.90 439.00 98.90C447.50 98.90 456.00 99.13 464.50 99.50C467.83 99.65 471.17 100.21 474.50 100.75C478.67 101.43 482.83 102.69 487.00 103.75C491.58 104.92 496.17 107.50 500.75 107.50C504.50 107.50 508.25 103.84 512.00 102.50C515.33 101.31 518.67 100.14 522.00 99.50C523.33 99.25 524.67 99.07 526.00 98.90C527.57 98.70 529.13 98.40 530.70 98.40C532.17 98.40 533.63 99.72 535.10 100.60C536.77 101.60 538.43 103.07 540.10 104.40C541.77 105.73 543.43 106.98 545.10 108.60C546.80 110.25 548.50 112.02 550.20 114.50C551.10 115.81 552.00 118.11 552.90 119.50C553.60 120.58 554.30 122.30 555.00 122.30C555.70 122.30 556.40 122.00 557.10 122.00C558.13 122.00 559.17 123.50 560.20 123.90C561.27 124.31 562.33 124.36 563.40 124.80C564.67 125.33 565.93 127.20 567.20 128.00C568.03 128.53 568.87 129.30 569.70 129.30C570.33 129.30 570.97 128.90 571.60 128.90C572.43 128.90 573.27 129.80 574.10 129.80C574.73 129.80 575.37 129.10 576.00 128.30C576.60 127.54 577.20 124.25 577.80 122.60C578.67 120.22 579.53 117.54 580.40 116.40C581.00 115.61 581.60 114.70 582.20 114.70C582.70 114.70 583.20 115.13 583.70 115.70C584.27 116.35 584.83 122.01 585.40 123.30C585.80 124.21 586.20 125.20 586.60 125.20C587.13 125.20 587.67 125.20 588.20 125.20C588.73 125.20 589.27 128.13 589.80 128.90C590.20 129.48 590.60 130.20 591.00 130.20C591.43 130.20 591.87 128.83 592.30 127.70C592.93 126.05 593.57 121.79 594.20 119.50C594.60 118.06 595.00 115.86 595.40 115.70C596.27 115.35 597.13 115.55 598.00 115.20C598.40 115.04 598.80 112.54 599.20 111.30C599.77 109.55 600.33 107.75 600.90 106.30C601.73 104.16 602.57 101.65 603.40 100.70C604.23 99.75 605.07 98.80 605.90 98.80C606.53 98.80 607.17 99.03 607.80 99.40C608.43 99.77 609.07 103.97 609.70 105.70C610.33 107.43 610.97 110.10 611.60 110.10C612.23 110.10 612.87 108.32 613.50 107.60C614.33 106.65 615.17 105.10 616.00 105.10C616.83 105.10 617.67 107.20 618.50 107.20C619.13 107.20 619.77 105.08 620.40 103.80C621.03 102.52 621.67 99.77 622.30 99.40C622.90 99.05 623.50 98.80 624.10 98.80C624.63 98.80 625.17 101.09 625.70 102.50C626.37 104.27 627.03 107.64 627.70 108.80C628.40 110.01 629.10 111.30 629.80 111.30C630.63 111.30 631.47 109.31 632.30 108.20C633.37 106.78 634.43 104.84 635.50 103.60C636.73 102.16 637.97 100.66 639.20 100.00C640.07 99.53 640.93 99.00 641.80 99.00C642.63 99.00 643.47 100.89 644.30 101.90C645.77 103.69 647.23 105.43 648.70 107.60C649.93 109.42 651.17 112.45 652.40 113.90C653.47 115.15 654.53 116.80 655.60 116.80C656.43 116.80 657.27 116.04 658.10 115.10C658.93 114.16 659.77 109.40 660.60 106.90C661.43 104.40 662.27 100.99 663.10 100.00C663.60 99.41 664.10 98.80 664.60 98.80C665.17 98.80 665.73 102.84 666.30 105.10C666.83 107.23 667.37 112.00 667.90 112.00C668.40 112.00 668.90 110.78 669.40 109.50C669.90 108.22 670.40 102.44 670.90 101.30C671.33 100.31 671.77 99.40 672.20 99.40C672.43 99.40 672.67 110.70 672.90 110.70C673.40 110.70 673.90 110.60 674.40 110.50C675.47 110.28 676.53 109.16 677.60 108.50C678.57 107.90 679.53 107.30 680.50 106.70" stroke="#8E8E00"/>
<path d="M47.10 55.70C50.27 56.00 53.43 56.32 56.60 56.60C60.77 56.96 64.93 57.16 69.10 57.60C72.47 57.95 75.83 58.42 79.20 59.10C81.73 59.61 84.27 60.38 86.80 61.40C88.47 62.07 90.13 62.85 91.80 64.20C92.83 65.04 93.87 66.34 94.90 68.30C95.53 69.50 96.17 71.69 96.80 74.00C97.43 76.31 98.07 80.36 98.70 82.80C99.20 84.73 99.70 87.06 100.20 87.80C100.53 88.30 100.87 88.80 101.20 88.80C101.53 88.80 101.87 87.51 102.20 86.60C102.70 85.23 103.20 81.50 103.70 80.90C104.33 80.14 104.97 79.60 105.60 79.60C106.03 79.60 106.47 79.60 106.90 79.60C107.30 79.60 107.70 80.50 108.10 80.50C108.43 80.50 108.77 79.07 109.10 78.40C109.60 77.39 110.10 75.50 110.60 75.50C111.03 75.50 111.47 75.63 111.90 75.90C112.23 76.11 112.57 81.73 112.90 83.40C113.20 84.90 113.50 86.80 113.80 86.80C114.10 86.80 114.40 85.00 114.70 83.40C115.03 81.62 115.37 75.69 115.70 74.00C116.20 71.46 116.70 69.95 117.20 69.00C117.93 67.61 118.67 66.62 119.40 66.20C120.67 65.48 121.93 65.09 123.20 64.90C125.47 64.56 127.73 64.41 130.00 64.30C135.83 64.01 141.67 64.01 147.50 63.75C155.00 63.42 162.50 62.63 170.00 62.00C183.67 60.86 197.33 58.90 211.00 58.25C224.00 57.64 237.00 57.37 250.00 57.00C263.33 56.63 276.67 56.00 290.00 56.00C294.50 56.00 299.00 56.00 303.50 56.00C305.58 56.00 307.67 57.20 309.75 57.20C311.83 57.20 313.92 56.04 316.00 56.00C338.00 55.57 360.00 55.50 382.00 55.50C398.83 55.50 415.67 55.51 432.50 55.60C433.58 55.61 434.67 56.70 435.75 56.70C436.83 56.70 437.92 55.80 439.00 55.80C447.50 55.80 456.00 55.95 464.50 56.25C467.83 56.37 471.17 56.92 474.50 57.50C478.67 58.22 482.83 60.15 487.00 61.25C491.58 62.46 496.17 64.50 500.75 64.50C504.50 64.50 508.25 60.86 512.00 59.50C514.67 58.53 517.33 57.64 520.00 57.00C521.67 56.60 523.33 56.15 525.00 56.00C526.67 55.85 528.33 55.70 530.00 55.70C531.70 55.70 533.40 56.81 535.10 57.60C536.77 58.38 538.43 59.52 540.10 60.70C541.77 61.88 543.43 63.19 545.10 64.80C546.80 66.44 548.50 68.05 550.20 70.80C551.10 72.26 552.00 75.12 552.90 77.10C553.60 78.64 554.30 81.50 555.00 81.50C555.70 81.50 556.40 80.90 557.10 80.90C558.13 80.90 559.17 82.75 560.20 83.10C561.27 83.46 562.33 83.43 563.40 83.80C564.67 84.24 565.93 86.74 567.20 87.20C568.03 87.50 568.87 87.80 569.70 87.80C570.33 87.80 570.97 87.40 571.60 87.40C572.43 87.40 573.27 88.40 574.10 88.40C574.73 88.40 575.37 87.67 576.00 86.80C576.60 85.97 577.20 82.23 577.80 80.20C578.67 77.27 579.53 73.43 580.40 72.10C581.00 71.18 581.60 70.20 582.20 70.20C582.70 70.20 583.20 70.72 583.70 71.40C584.27 72.17 584.83 78.51 585.40 79.60C585.80 80.37 586.20 81.10 586.60 81.10C587.13 81.10 587.67 80.90 588.20 80.90C588.73 80.90 589.27 84.24 589.80 85.30C590.20 86.09 590.60 87.20 591.00 87.20C591.43 87.20 591.87 85.37 592.30 84.00C592.93 82.00 593.57 77.43 594.20 75.20C594.60 73.79 595.00 71.86 595.40 71.70C596.27 71.35 597.13 71.55 598.00 71.20C598.40 71.04 598.80 68.87 599.20 67.70C599.77 66.04 600.33 64.17 600.90 62.70C601.73 60.54 602.57 57.95 603.40 57.00C604.23 56.05 605.07 55.10 605.90 55.10C606.53 55.10 607.17 55.39 607.80 55.80C608.43 56.21 609.07 59.89 609.70 61.40C610.33 62.91 610.97 65.20 611.60 65.20C612.23 65.20 612.87 63.85 613.50 63.30C614.33 62.58 615.17 61.40 616.00 61.40C616.83 61.40 617.67 62.90 618.50 62.90C619.13 62.90 619.77 61.32 620.40 60.20C621.03 59.08 621.67 56.22 622.30 55.80C622.90 55.40 623.50 55.10 624.10 55.10C624.63 55.10 625.17 57.06 625.70 58.30C626.37 59.85 627.03 62.98 627.70 63.90C628.40 64.86 629.10 65.80 629.80 65.80C630.63 65.80 631.47 64.17 632.30 63.30C633.37 62.19 634.43 60.60 635.50 59.80C636.73 58.87 637.97 58.26 639.20 57.70C640.07 57.31 640.93 56.70 641.80 56.70C642.63 56.70 643.47 58.02 644.30 58.70C645.77 59.90 647.23 61.17 648.70 62.40C649.93 63.44 651.17 64.94 652.40 65.50C653.47 65.98 654.53 66.50 655.60 66.50C656.43 66.50 657.27 65.89 658.10 65.20C658.93 64.51 659.77 61.76 660.60 60.20C661.43 58.64 662.27 56.39 663.10 55.80C663.60 55.45 664.10 55.10 664.60 55.10C665.17 55.10 665.73 57.59 666.30 58.90C666.83 60.13 667.37 62.70 667.90 62.70C668.40 62.70 668.90 62.07 669.40 61.40C669.90 60.73 670.40 57.69 670.90 57.00C671.33 56.40 671.77 55.80 672.20 55.80C672.43 55.80 672.67 61.40 672.90 61.40C673.40 61.40 673.90 61.29 674.40 61.20C675.47 61.01 676.53 60.55 677.60 60.20C678.57 59.88 679.53 59.53 680.50 59.20" stroke="#FB6501"/>
</g>
<rect x="47.00" y="2.50" width="634.80" height="465.85" fill="none" stroke="#000" stroke-width="2.70"/>
<path d="M47.00 468.35 V477.70M135.14 468.35 V477.70M223.29 468.35 V477.70M311.44 468.35 V477.70M399.58 468.35 V477.70M487.73 468.35 V477.70M575.87 468.35 V477.70M664.01 468.35 V477.70M91.07 468.35 V473.30M179.22 468.35 V473.30M267.36 468.35 V473.30M355.51 468.35 V473.30M443.65 468.35 V473.30M531.80 468.35 V473.30M619.94 468.35 V473.30" stroke="#000" stroke-width="2.5" fill="none"/>
<g fill="#000" stroke="#000" stroke-linejoin="round">
<g font-family="Liberation Sans, sans-serif" font-weight="bold" font-size="25.7" stroke-width="0.7" letter-spacing="0.12">
<text x="47.20" y="504.2" text-anchor="middle">4000</text>
<text x="135.34" y="504.2" text-anchor="middle">3500</text>
<text x="223.49" y="504.2" text-anchor="middle">3000</text>
<text x="311.63" y="504.2" text-anchor="middle">2500</text>
<text x="399.78" y="504.2" text-anchor="middle">2000</text>
<path d="M469.21 504.20L465.69 504.20L465.69 490.91Q463.75 492.72 461.13 493.58L461.13 490.38Q462.51 489.93 464.13 488.67Q465.75 487.41 466.35 485.73L469.21 485.73Z" stroke-width="0.70"/>
<text x="473.51" y="504.2">500</text>
<path d="M557.36 504.20L553.83 504.20L553.83 490.91Q551.90 492.72 549.28 493.58L549.28 490.38Q550.66 489.93 552.28 488.67Q553.89 487.41 554.50 485.73L557.36 485.73Z" stroke-width="0.70"/>
<text x="561.66" y="504.2">000</text>
<text x="664.22" y="504.2" text-anchor="middle">500</text>
</g>
<g font-family="Liberation Sans, sans-serif" font-weight="bold" font-size="30.5" stroke-width="0.80">
<text x="177.4" y="542.2" letter-spacing="-0.02">Wavenumbers</text>
<text x="396.3" y="542.2" letter-spacing="-0.15">(cm</text>
<text x="450.6" y="531.6" font-size="30">-</text>
<path d="M472.21 532.50L468.09 532.50L468.09 516.99Q465.83 519.10 462.77 520.11L462.77 516.37Q464.38 515.84 466.27 514.37Q468.16 512.90 468.87 510.94L472.21 510.94Z" stroke-width="0.80"/>
<text x="477.2" y="542.2">)</text>
<text letter-spacing="0.15" transform="translate(22.5 366.0) rotate(-90)">Transmittance (%)</text>
</g>
<g font-family="Liberation Sans, sans-serif" font-weight="bold" font-size="21.2" stroke-width="0.70">
<path d="M288.64 43.50L285.73 43.50L285.73 32.54Q284.14 34.03 281.98 34.74L281.98 32.10Q283.12 31.73 284.45 30.69Q285.79 29.65 286.28 28.26L288.64 28.26Z" stroke-width="0.70"/><text x="292.26" y="43.50" letter-spacing="0.17">5% ZrO<tspan font-size="21.3" dy="5.10" font-weight="normal" stroke-width="0.9">2</tspan><tspan dy="-5.10">&#8203;</tspan>/K400</text>
<text x="280.40" y="85.80" letter-spacing="0.17">5% ZrO<tspan font-size="21.3" dy="5.10" font-weight="normal" stroke-width="0.9">2</tspan><tspan dy="-5.10">&#8203;</tspan>/K400</text>
<path d="M287.74 127.60L284.83 127.60L284.83 116.64Q283.24 118.13 281.08 118.84L281.08 116.20Q282.22 115.83 283.55 114.79Q284.89 113.75 285.38 112.36L287.74 112.36Z" stroke-width="0.70"/><text x="291.36" y="127.60" letter-spacing="0.17">% ZrO<tspan font-size="21.3" dy="5.10" font-weight="normal" stroke-width="0.9">2</tspan><tspan dy="-5.10">&#8203;</tspan>/K400</text>
<path d="M285.94 166.70L283.03 166.70L283.03 155.74Q281.44 157.23 279.28 157.94L279.28 155.30Q280.42 154.93 281.75 153.89Q283.09 152.85 283.58 151.46L285.94 151.46Z" stroke-width="0.70"/><text x="289.56" y="166.70" letter-spacing="0.17">5% WO<tspan font-size="14.8" dy="6.80" font-weight="bold" stroke-width="0.5">3</tspan><tspan dy="-6.80">&#8203;</tspan>/K400</text>
<text x="282.20" y="208.10" letter-spacing="0.17">5% WO<tspan font-size="14.8" dy="6.80" font-weight="bold" stroke-width="0.5">3</tspan><tspan dy="-6.80">&#8203;</tspan>/K400</text>
<path d="M286.74 249.20L283.83 249.20L283.83 238.24Q282.24 239.73 280.08 240.44L280.08 237.80Q281.22 237.43 282.55 236.39Q283.89 235.35 284.38 233.96L286.74 233.96Z" stroke-width="0.70"/><text x="290.36" y="249.20" letter-spacing="0.17">% WO<tspan font-size="14.8" dy="6.80" font-weight="bold" stroke-width="0.5">3</tspan><tspan dy="-6.80">&#8203;</tspan>/K400</text>
<path d="M288.34 295.60L285.43 295.60L285.43 284.64Q283.84 286.13 281.68 286.84L281.68 284.20Q282.82 283.83 284.15 282.79Q285.49 281.75 285.98 280.36L288.34 280.36Z" stroke-width="0.70"/><text x="291.87" y="295.60" letter-spacing="0.08">5% H<tspan font-size="14.4" dy="5.60" font-weight="bold" stroke-width="0.5">2</tspan><tspan dy="-5.60">&#8203;</tspan>SO<tspan font-size="14.4" dy="5.60" font-weight="bold" stroke-width="0.5">4</tspan><tspan dy="-5.60">&#8203;</tspan>/K400</text>
<text x="281.20" y="337.30" letter-spacing="0.11">5% H<tspan font-size="14.4" dy="5.60" font-weight="bold" stroke-width="0.5">2</tspan><tspan dy="-5.60">&#8203;</tspan>SO<tspan font-size="14.4" dy="5.60" font-weight="bold" stroke-width="0.5">4</tspan><tspan dy="-5.60">&#8203;</tspan>/K400</text>
<path d="M288.84 382.40L285.93 382.40L285.93 371.44Q284.34 372.93 282.18 373.64L282.18 371.00Q283.32 370.63 284.65 369.59Q285.99 368.55 286.48 367.16L288.84 367.16Z" stroke-width="0.70"/><text x="292.42" y="382.40" letter-spacing="0.13">% H<tspan font-size="14.4" dy="5.60" font-weight="bold" stroke-width="0.5">2</tspan><tspan dy="-5.60">&#8203;</tspan>SO<tspan font-size="14.4" dy="5.60" font-weight="bold" stroke-width="0.5">4</tspan><tspan dy="-5.60">&#8203;</tspan>/K400</text>
<text x="319.70" y="418.60" letter-spacing="0.17">K400</text>
</g>
</g>
</g>
</svg>
</body></html>
